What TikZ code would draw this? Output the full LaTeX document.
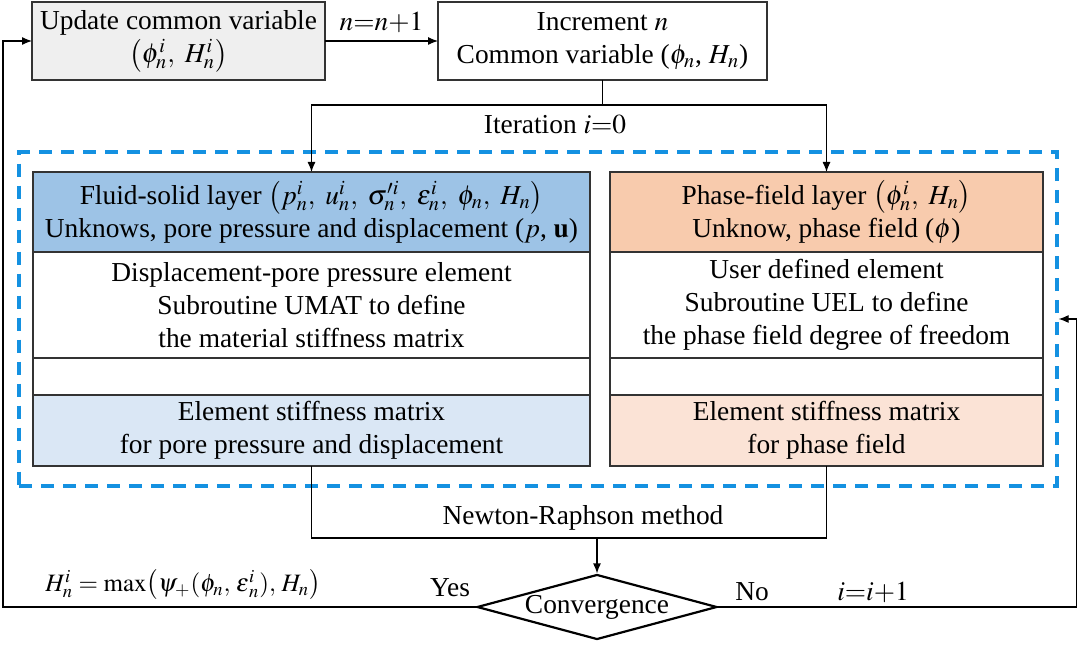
\documentclass[tikz,border=0pt]{standalone}
\usepackage{amsmath}
\usepackage{mathptmx}
\usepackage[no-math]{fontspec}
\setmainfont{Liberation Serif}
\usepackage{xcolor}
\usepackage{tikz}
\usetikzlibrary{arrows.meta,positioning,shapes.geometric,fit}

\definecolor{fsdark}{RGB}{157,195,230}
\definecolor{fslight}{RGB}{218,231,245}
\definecolor{pfdark}{RGB}{248,203,173}
\definecolor{pflight}{RGB}{251,227,214}
\definecolor{updgray}{RGB}{239,239,239}
\definecolor{dashblue}{RGB}{20,145,225}

\begin{document}
\begin{tikzpicture}[x=0.5pt, y=-0.5pt,
  font=\fontsize{13.7}{16.5}\selectfont,
  cell/.style={draw=black!80, line width=0.6pt, align=center, inner sep=0pt, outer sep=0pt},
  top/.style={cell, minimum height=39pt},
  fs/.style={cell, minimum width=278.5pt},
  pf/.style={cell, minimum width=216.5pt},
  arr/.style={-{Latex[length=5pt,width=4pt]}, line width=0.6pt},
  lne/.style={line width=0.6pt},
  lbl/.style={inner sep=1pt}
]
\useasboundingbox (0,0) rectangle (1080,646);

% top row
\node[top, fill=updgray, minimum width=146.5pt] (upd) at (178.5,41)
  {Update common variable\\$\left(\phi_n^i,\ H_n^i\right)$};
\node[top, line width=1.1pt, minimum width=164.5pt] (inc) at (602.5,41)
  {Increment $n$\\Common variable ($\phi_n$, $H_n$)};
\draw[arr] (upd) -- node[above, lbl, yshift=3pt]{$n{=}n{+}1$} (inc);

% fluid-solid layer
\node[fs, fill=fsdark, minimum height=40pt] (fshead) at (311.5,212)
  {Fluid-solid layer $\left(p_n^i,\ u_n^i,\ \sigma_n^{\prime i},\ \varepsilon_n^i,\ \phi_n,\ H_n\right)$\\
   Unknows, pore pressure and displacement ($p$, $\mathbf{u}$)};
\node[fs, minimum height=53pt, below=0pt of fshead] (fsmid)
  {Displacement-pore pressure element\\Subroutine UMAT to define\\the material stiffness matrix};
\node[fs, minimum height=18.5pt, below=0pt of fsmid] (fsgap) {};
\node[fs, fill=fslight, minimum height=35.5pt, below=0pt of fsgap] (fsstiff)
  {Element stiffness matrix\\for pore pressure and displacement};

% phase-field layer
\node[pf, fill=pfdark, minimum height=40pt] (pfhead) at (826.5,212)
  {Phase-field layer $\left(\phi_n^i,\ H_n\right)$\\Unknow, phase field ($\phi$)};
\node[pf, minimum height=53pt, below=0pt of pfhead] (pfmid)
  {User defined element\\Subroutine UEL to define\\the phase field degree of freedom};
\node[pf, minimum height=18.5pt, below=0pt of pfmid] (pfgap) {};
\node[pf, fill=pflight, minimum height=35.5pt, below=0pt of pfgap] (pfstiff)
  {Element stiffness matrix\\for phase field};

% dashed frame round both layers
\node[draw=dashblue, line width=2pt, dash pattern=on 6.5pt off 4.5pt,
  inner xsep=6.8pt, inner ysep=10pt, fit=(fshead)(pfstiff)] (layers) {};

% iteration split
\draw[lne] (inc.south) -- ++(0,25) coordinate (it);
\draw[arr] (it) -| (fshead.north);
\draw[arr] (it) -| (pfhead.north);
\node[lbl] (itlbl) at (555,125) {Iteration $i{=}0$};

% convergence check
\node[draw, line width=1.1pt, shape=diamond, aspect=3.8, inner sep=0pt,
  minimum width=120pt, minimum height=32.5pt] (conv) at (597,607) {Convergence};
\path (fsstiff.south) ++(0,72) coordinate (nr);
\draw[lne] (fsstiff.south) |- (pfstiff.south |- nr) -- (pfstiff.south);
\node[lbl] (nrlbl) at (583,518) {Newton-Raphson method};
\draw[arr] (conv.north |- nr) -- (conv.north);

% yes / no branches
\draw[arr] (conv.west) -| ([xshift=-14.5pt]upd.west) -- (upd.west);
\draw[arr] (conv.east) -| ([xshift=9pt]layers.east) -- (layers.east);
\node[lbl] (yes) at (450,588) {Yes};
\node[lbl] (no) at (752,592) {No};
\node[lbl] (inc1) at (873,592) {$i{=}i{+}1$};
\node[lbl, font=\fontsize{12.5}{15}\selectfont] (hmax) at (183,585)
  {$H_n^i=\max\!\left(\psi_+(\phi_n,\,\boldsymbol{\varepsilon}_n^i),\,H_n\right)$};
\end{tikzpicture}
\end{document}
